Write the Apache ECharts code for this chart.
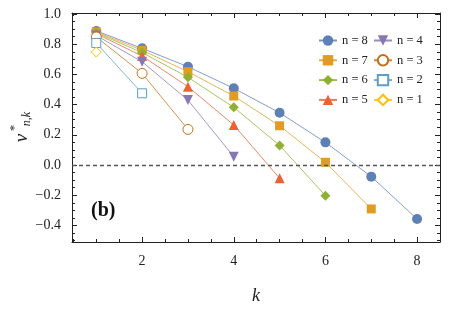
<!DOCTYPE html>
<html><head><meta charset="utf-8">
<script src="https://cdn.jsdelivr.net/npm/echarts@6/dist/echarts.min.js"></script>
<style>html,body{margin:0;padding:0;background:#fff}#c{width:454px;height:315px}</style>
</head><body><div id="c"></div>
<script>
const kValues = [1, 2, 3, 4, 5, 6, 7, 8];
const seriesNames = ['n = 8', 'n = 7', 'n = 6', 'n = 5', 'n = 4', 'n = 3', 'n = 2', 'n = 1'];
const n8 = [0.888, 0.773, 0.651, 0.508, 0.346, 0.150, -0.077, -0.358];
const n7 = [0.882, 0.760, 0.618, 0.457, 0.260, 0.018, -0.291];
const n6 = [0.876, 0.745, 0.581, 0.382, 0.130, -0.203];
const n5 = [0.870, 0.722, 0.519, 0.265, -0.088];
const n4 = [0.858, 0.684, 0.430, 0.055];
const n3 = [0.848, 0.607, 0.236];
const n2 = [0.808, 0.475];
const n1 = [0.748];
const xMajorTicks = [2, 4, 6, 8];
const xMinorTicks = [0.5, 1, 1.5, 2.5, 3, 3.5, 4.5, 5, 5.5, 6.5, 7, 7.5];
const yMajorTicks = [-0.4, -0.2, 0, 0.2, 0.4, 0.6, 0.8, 1.0];
const yMinorTicks = [-0.5, -0.45, -0.35, -0.3, -0.25, -0.15, -0.1, -0.05, 0.05, 0.1, 0.15, 0.25, 0.3, 0.35, 0.45, 0.5, 0.55, 0.65, 0.7, 0.75, 0.85, 0.9, 0.95];

const allValues = [n8, n7, n6, n5, n4, n3, n2, n1];
const colors = ['#5E81B5', '#E19C24', '#8FB032', '#EB6235', '#8778B3', '#C56E1A', '#5D9EC7', '#FFBF00'];
const symbols = ['circle', 'rect', 'diamond', 'triangle', 'triangle', 'circle', 'rect', 'diamond'];
const symbolRot = [0, 0, 0, 0, 180, 0, 0, 0];
const symbolSizes = [10, 9, 10, 10, 10, 10, 9, 10];
const hollow = [false, false, false, false, false, true, true, true];

const FONT = '"Liberation Serif", "DejaVu Serif", serif';
const X_MIN = 0.47, X_MAX = 8.5, Y_MIN = -0.51, Y_MAX = 1.007;

const chart = echarts.init(document.getElementById('c'), null, {renderer: 'canvas'});

function xAxisDef(pos, major, showLabel, showLine) {
  return {
    type: 'value', position: pos, min: X_MIN, max: X_MAX,
    splitLine: {show: false},
    axisLine: {show: showLine, onZero: false, lineStyle: {color: '#222', width: 1}},
    axisTick: {show: true, inside: true, length: major ? 5 : 3, customValues: major ? xMajorTicks : xMinorTicks, lineStyle: {color: '#222', width: 1}},
    axisLabel: {show: showLabel, customValues: xMajorTicks, margin: 12, color: '#222', fontFamily: FONT, fontSize: 14},
    name: showLabel ? 'k' : '', nameLocation: 'middle', nameGap: 45,
    nameTextStyle: {fontFamily: FONT, fontStyle: 'italic', fontSize: 18, color: '#222'}
  };
}
function yAxisDef(pos, major, showLabel, showLine) {
  return {
    type: 'value', position: pos, min: Y_MIN, max: Y_MAX,
    splitLine: {show: false},
    axisLine: {show: showLine, onZero: false, lineStyle: {color: '#222', width: 1}},
    axisTick: {show: true, inside: true, length: major ? 5 : 3, customValues: major ? yMajorTicks : yMinorTicks, lineStyle: {color: '#222', width: 1}},
    axisLabel: {show: showLabel, customValues: yMajorTicks, margin: 11, color: '#222', fontFamily: FONT, fontSize: 14,
      formatter: v => (v < 0 ? '\u2212' : '') + Math.abs(v).toFixed(1)}
  };
}

const series = allValues.map((vals, i) => {
  const s = {
    name: seriesNames[i], type: 'line',
    xAxisIndex: 0, yAxisIndex: 0,
    data: vals.map((v, j) => [kValues[j], v]),
    symbol: symbols[i], symbolRotate: symbolRot[i], symbolSize: symbolSizes[i],
    showAllSymbol: true,
    lineStyle: {color: colors[i], width: 0.9, opacity: 0.85},
    itemStyle: hollow[i] ? {color: '#fff', borderColor: colors[i], borderWidth: 1} : {color: colors[i], borderWidth: 0},
    emphasis: {disabled: true},
    animation: false, z: 3
  };
  if (i === 0) {
    s.markLine = {
      silent: true, symbol: ['none', 'none'], label: {show: false},
      lineStyle: {type: [4, 3], color: '#555', width: 1.3},
      data: [{yAxis: 0}]
    };
  }
  return s;
});

const legendCommon = {
  orient: 'vertical', itemWidth: 18, itemHeight: 13, itemGap: 6.8,
  textStyle: {fontFamily: FONT, fontSize: 12.5, color: '#222'},
  selectedMode: false
};

chart.setOption({
  animation: false,
  backgroundColor: '#fff',
  grid: {left: 72, right: 14, top: 13, bottom: 73, containLabel: false},
  xAxis: [xAxisDef('bottom', true, true, true), xAxisDef('bottom', false, false, false),
          xAxisDef('top', true, false, true), xAxisDef('top', false, false, false)],
  yAxis: [yAxisDef('left', true, true, true), yAxisDef('left', false, false, false),
          yAxisDef('right', true, false, true), yAxisDef('right', false, false, false)],
  legend: [
    Object.assign({left: 313, top: 29, data: seriesNames.slice(0, 4)}, legendCommon),
    Object.assign({left: 368, top: 29, data: seriesNames.slice(4, 8)}, legendCommon)
  ],
  graphic: [
    {type: 'text', left: 91, top: 201, style: {text: '(b)', font: 'bold 20px ' + FONT, fill: '#111'}},
    {type: 'text', x: 22, y: 138, rotation: Math.PI / 2, style: {text: 'v', font: 'italic 19px ' + FONT, fill: '#222', align: 'center', verticalAlign: 'middle'}},
    {type: 'text', x: 15, y: 128, rotation: Math.PI / 2, style: {text: '*', font: '13px ' + FONT, fill: '#222', align: 'center', verticalAlign: 'middle'}},
    {type: 'text', x: 27, y: 119, rotation: Math.PI / 2, style: {text: 'n,k', font: 'italic 12px ' + FONT, fill: '#222', align: 'center', verticalAlign: 'middle'}}
  ],
  series: series
});
</script>
</body></html>
